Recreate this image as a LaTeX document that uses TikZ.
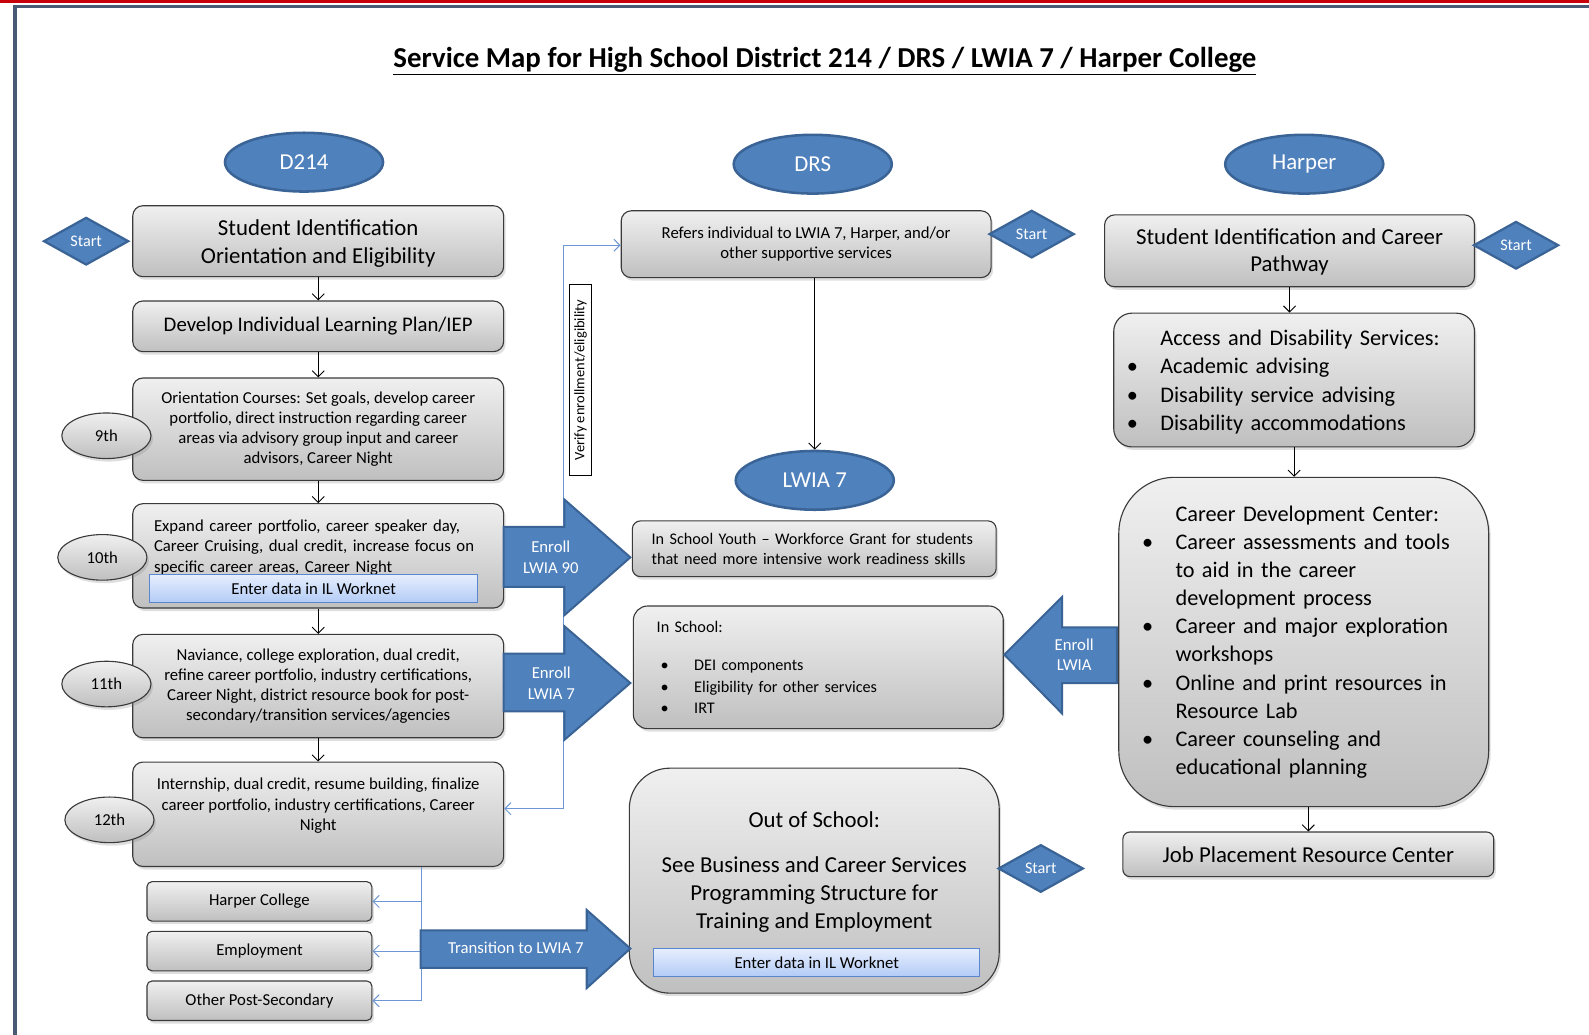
\documentclass[tikz,border=0pt]{standalone}
\usepackage{fontspec}
\setmainfont{Carlito}
\usetikzlibrary{shapes.geometric,arrows.meta,shadows}
\definecolor{smblue}{HTML}{4F81BD}
\definecolor{smblueline}{HTML}{3A6396}
\definecolor{smlinkc}{HTML}{6C97D4}
\definecolor{smred}{HTML}{C8000A}
\definecolor{smslate}{HTML}{4B5A74}
\definecolor{smgrayline}{HTML}{3A3A3A}
\definecolor{smentertop}{HTML}{E6EEFD}
\definecolor{smenterbot}{HTML}{B2CBF6}
\definecolor{smenterline}{HTML}{5A86D0}
\newcommand{\smbul}{\makebox[33pt][l]{\textbullet}}
\newcommand{\smind}{\hspace*{33pt}}
\newcommand{\smfs}[2]{\fontsize{#1}{#2}\selectfont}
\begin{document}
\begin{tikzpicture}[x=1pt, y=-1pt, >={Straight Barb[length=6pt,width=12pt]}]
\tikzset{smoval/.style={ellipse, minimum width=156pt, minimum height=58pt, inner sep=0pt, fill=smblue, draw=smblueline, line width=2.5pt, text=white, font=\smfs{22.5}{24}}}
\tikzset{smstart/.style={diamond, minimum width=84pt, minimum height=47pt, inner sep=0pt, fill=smblue, draw=smblueline, line width=2.2pt, text=white, font=\smfs{16}{18}}}
\tikzset{smbox/.style={rectangle, rounded corners=10pt, draw=smgrayline, line width=1.1pt, top color=gray!12, bottom color=gray!50, drop shadow={shadow xshift=2pt, shadow yshift=-3pt, opacity=0.25}, align=center, font=\smfs{16.5}{20}}}
\tikzset{smgrade/.style={ellipse, minimum width=88pt, minimum height=45pt, inner sep=0pt, draw=smgrayline, line width=1.1pt, top color=gray!12, bottom color=gray!50, drop shadow={shadow xshift=2pt, shadow yshift=-3pt, opacity=0.25}, font=\smfs{16.5}{18}}}
\tikzset{smenter/.style={rectangle, minimum width=323pt, minimum height=28pt, draw=smenterline, line width=1pt, top color=smentertop, bottom color=smenterbot, font=\smfs{16.5}{18}}}
\tikzset{smblock/.style={fill=smblue, draw=smblueline, line width=2pt, line join=miter}}
\tikzset{smblocktext/.style={align=center, text=white, font=\smfs{16.5}{20.5}}}
\tikzset{smedge/.style={->, draw=black, line width=0.9pt}}
\tikzset{smlink/.style={->, draw=smlinkc, line width=1pt}}
\useasboundingbox (0,0) rectangle (1568,1021);
% page frame
\fill[smred] (0,0) rectangle (1568,3);
\fill[smslate] (13,4.5) rectangle (1568,7.5);
\fill[smslate] (13,4.5) rectangle (16.5,1021);
\node (title) at (814,60) {\smfs{28.5}{32}\underline{\textbf{Service Map for High School District 214 / DRS / LWIA 7 / Harper College}}};
% headers
\node (d214)   [smoval] at ( 300,160) {D214};
\node (drsh)   [smoval] at ( 802,162) {DRS};
\node (harper) [smoval] at (1287,162) {Harper};
\node (lwia)   [smoval] at ( 804,474) {LWIA 7};
% verify link (behind the block arrows)
\coordinate (vtop) at (556,242);
\coordinate (vbot) at (556,798);
\coordinate (tbot) at (416,987.5);
% D214 column
\node (sid)    [smbox, minimum width=366pt, minimum height=70pt, font=\smfs{22.5}{27}] at (314,238)
  {\rule{0pt}{20pt}Student Identification\\Orientation and Eligibility};
\node (ilp)    [smbox, minimum width=366pt, minimum height=50pt, font=\smfs{20.5}{22}] at (314,322)
  {Develop Individual Learning Plan/IEP};
\node (orient) [smbox, minimum width=366pt, minimum height=101pt] at (314,423.5)
  {Orientation Courses: Set goals, develop career\\portfolio, direct instruction regarding career\\areas via advisory group input and career\\advisors, Career Night};
\node (g10box) [smbox, minimum width=366pt, minimum height=103pt, text width=324pt, inner xsep=21pt, align=left] at (314,548.5)
  {Expand career portfolio, career speaker day,\\Career Cruising, dual credit, increase focus on\\specific career areas, Career Night\rule[-19.5pt]{0pt}{19.5pt}};
\node (wk1)    [smenter] at (309.5,581) {Enter data in IL Worknet};
\node (g11box) [smbox, minimum width=366pt, minimum height=102pt] at (314,677)
  {Naviance, college exploration, dual credit,\\refine career portfolio, industry certifications,\\Career Night, district resource book for post-\\secondary/transition services/agencies};
\node (g12box) [smbox, minimum width=366pt, minimum height=103pt] at (314,803.5)
  {Internship, dual credit, resume building, finalize\\career portfolio, industry certifications, Career\\Night\rule[-19.5pt]{0pt}{19.5pt}};
\node (hc)     [smbox, rounded corners=5pt, minimum width=222pt, minimum height=39pt] at (256,889.5) {Harper College};
\node (emp)    [smbox, rounded corners=5pt, minimum width=222pt, minimum height=39pt] at (256,938.5) {Employment};
\node (oth)    [smbox, rounded corners=5pt, minimum width=222pt, minimum height=39pt] at (256,987.5) {Other Post-Secondary};
\node (st1)    [smstart] at (85,238) {Start};
% grades
\node (g9)  [smgrade] at (105,430) {9th};
\node (g10) [smgrade] at (101,550) {10th};
\node (g11) [smgrade] at (105,675) {11th};
\node (g12) [smgrade] at (108,809) {12th};
% DRS / LWIA 7 column
\node (drs)  [smbox, minimum width=365pt, minimum height=66pt] at (795.5,241)
  {Refers individual to LWIA 7, Harper, and/or\\other supportive services};
\node (st2)  [smstart] at (1018,231) {Start};
\node (isy)  [smbox, rounded corners=8pt, minimum width=359pt, minimum height=55pt, text width=339pt, inner xsep=10pt, align=left, font=\smfs{16}{20}] at (803.5,541.5)
  {\hspace*{9pt}In School Youth -- Workforce Grant for students\\\hspace*{9pt}that need more intensive work readiness skills};
\node (ins)  [smbox, rounded corners=14pt, minimum width=365pt, minimum height=121pt, text width=319pt, inner xsep=23pt, align=left, font=\smfs{16}{21}] at (807.5,658.5)
  {In School:\\[17pt]
   \hspace*{4pt}\makebox[33pt][l]{\textbullet}DEI components\\
   \hspace*{4pt}\makebox[33pt][l]{\textbullet}Eligibility for other services\\
   \hspace*{4pt}\makebox[33pt][l]{\textbullet}IRT};
\node (oos)  [smbox, rounded corners=40pt, minimum width=365pt, minimum height=222pt, font=\smfs{22.5}{27.5}] at (803.5,869)
  {Out of School:\\[17.5pt]See Business and Career Services\\Programming Structure for\\Training and Employment\rule[-21pt]{0pt}{21pt}};
\node (wk2)  [smenter, minimum width=322pt] at (806,950) {Enter data in IL Worknet};
\node (st4)  [smstart] at (1027,857) {Start};
\node (vfy)  [rectangle, draw=black, line width=0.9pt, fill=white, rotate=90, minimum width=188pt, minimum height=22pt, inner sep=1pt, font=\smfs{14.3}{16}] at (573,375)
  {Verify enrollment/eligibility};
% Harper column
\node (h1)   [smbox, minimum width=365pt, minimum height=71pt, font=\smfs{22.5}{27}] at (1272.5,247.5)
  {\rule{0pt}{18pt}Student Identification and Career\\Pathway};
\node (st3)  [smstart] at (1496,242) {Start};
\node (acc)  [smbox, rounded corners=18pt, minimum width=356pt, minimum height=132pt, text width=330pt, inner xsep=13pt, align=left, font=\smfs{22}{28}] at (1277,375)
  {\rule{0pt}{19.5pt}\smind Access and Disability Services:\\
   \smbul Academic advising\\
   \smbul Disability service advising\\
   \smbul Disability accommodations};
\node (cdc)  [smbox, rounded corners=55pt, minimum width=365pt, minimum height=325pt, text width=319pt, inner xsep=23pt, align=left, font=\smfs{22}{27.8}] at (1286.5,633.5)
  {\smind Career Development Center:\\
   \smbul Career assessments and tools\\
   \smind to aid in the career\\
   \smind development process\\
   \smbul Career and major exploration\\
   \smind workshops\\
   \smbul Online and print resources in\\
   \smind Resource Lab\\
   \smbul Career counseling and\\
   \smind educational planning};
\node (job)  [smbox, rounded corners=7pt, minimum width=366pt, minimum height=44pt, font=\smfs{22.5}{24}] at (1291,843)
  {Job Placement Resource Center};
% flow
\draw[smedge] (sid) -- (ilp);
\draw[smedge] (ilp) -- (orient);
\draw[smedge] (orient) -- (g10box);
\draw[smedge] (g10box) -- (g11box);
\draw[smedge] (g11box) -- (g12box);
\draw[smedge] (drs.south -| lwia.north) -- (lwia.north);
\draw[smedge] (h1.south) -- (h1.south |- acc.north);
\draw[smedge] (acc.south) -- (acc.south |- cdc.north);
\draw[smedge] (cdc.south -| job.north) -- (job.north);
% verify and transition links
\draw[smlink] (vbot) -- (vtop) -- (drs.west |- vtop);
\draw[smlink] (vbot) -- (g12box.east |- vbot);
\draw[smlink, -] (g12box.south -| tbot) -- (tbot);
\draw[smlink] (hc.east -| tbot) -- (hc.east);
\draw[smlink] (emp.east -| tbot) -- (emp.east);
\draw[smlink] (tbot) -- (oth.east);
% block arrows
\filldraw[smblock] (497,520) -- (557,520) -- (557,493) -- (622,550) -- (557,607) -- (557,579) -- (497,579) -- cycle;
\node (enr90) [smblocktext] at (543.5,550) {Enroll\\LWIA 90};
\filldraw[smblock] (497,645) -- (557,645) -- (557,618) -- (622,674) -- (557,730) -- (557,702) -- (497,702) -- cycle;
\node (enr7) [smblocktext] at (544,674) {Enroll\\LWIA 7};
\filldraw[smblock] (1102,619) -- (1048,619) -- (1048,589) -- (991,646) -- (1048,704) -- (1048,674) -- (1102,674) -- cycle;
\node (enrl) [smblocktext] at (1060,646) {Enroll\\LWIA};
\filldraw[smblock] (415,918) -- (579,918) -- (579,898) -- (622,936) -- (579,975) -- (579,955) -- (415,955) -- cycle;
\node (trans) [smblocktext] at (509,935) {Transition to LWIA 7};
\end{tikzpicture}
\end{document}
